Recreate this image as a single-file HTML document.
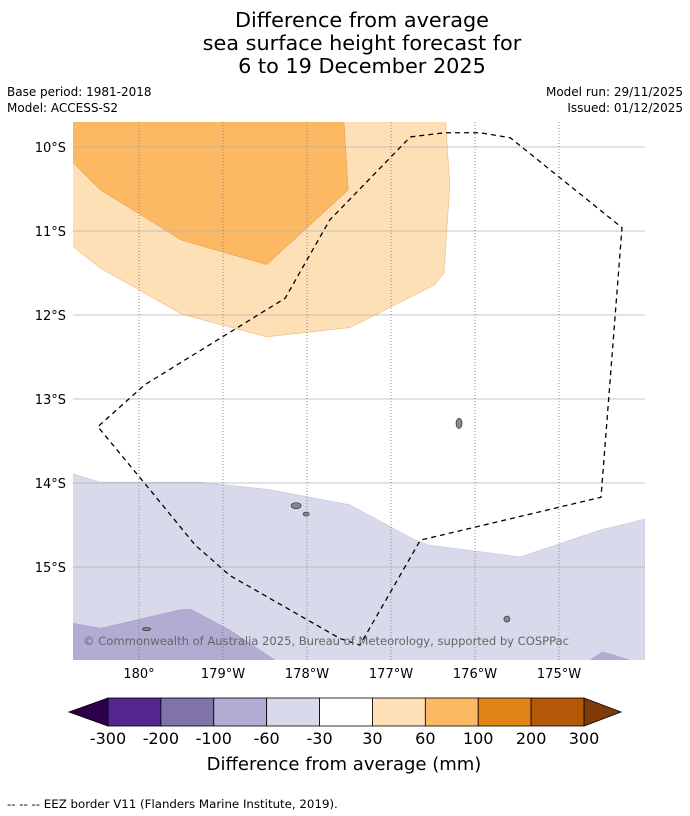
<!DOCTYPE html>
<html><head><meta charset="utf-8">
<style>
body{margin:0;background:#fff;font-family:"Liberation Sans","DejaVu Sans",sans-serif;}
#wrap{position:relative;width:690px;height:816px;overflow:hidden;}
svg text{font-family:"DejaVu Sans","Liberation Sans",sans-serif;}
</style></head>
<body>
<div id="wrap">
<svg id="chart" width="690" height="816" viewBox="0 0 690 816">
<text x="362" y="27" font-size="20.8" text-anchor="middle">Difference from average</text>
<text x="362" y="50" font-size="20.8" text-anchor="middle">sea surface height forecast for</text>
<text x="362" y="73" font-size="20.8" text-anchor="middle">6 to 19 December 2025</text>
<text x="7" y="96" font-size="12">Base period: 1981-2018</text>
<text x="7" y="112" font-size="12">Model: ACCESS-S2</text>
<text x="683" y="96" font-size="12" text-anchor="end">Model run: 29/11/2025</text>
<text x="683" y="112" font-size="12" text-anchor="end">Issued: 01/12/2025</text>
<defs><clipPath id="mapclip"><rect x="73" y="122" width="572" height="538"/></clipPath></defs>
<g id="map" clip-path="url(#mapclip)"></g>
<g id="axes"></g>
<g id="cbar"></g>
<text x="344" y="770" font-size="18" text-anchor="middle">Difference from average (mm)</text>
<text x="7" y="808" font-size="11.8">--  --  -- EEZ border V11 (Flanders Marine Institute, 2019).</text>
</svg>
</div>
<script>
const latTicks=[-10,-11,-12,-13,-14,-15];
const latLabels=["10°S","11°S","12°S","13°S","14°S","15°S"];
const lonTicks=[180,181,182,183,184,185];
const lonLabels=["180°","179°W","178°W","177°W","176°W","175°W"];
const cbarLevels=["-300","-200","-100","-60","-30","30","60","100","200","300"];
const cbarColors=["#54278f","#8073ac","#b2abd2","#d8daeb","#ffffff","#fee0b6","#fdb863","#e08214","#b35806"];
const cbarLow="#2d004b", cbarHigh="#7f3b08";
const band30to60=[[179.21,-9.70],[183.65,-9.70],[183.70,-10.45],[183.63,-11.50],[183.52,-11.64],[182.51,-12.15],[181.52,-12.26],[180.51,-11.99],[179.54,-11.44],[179.21,-11.18]];
const band60to100=[[179.21,-9.70],[182.44,-9.70],[182.49,-10.51],[181.52,-11.40],[180.51,-11.11],[179.54,-10.51],[179.21,-10.18]];
const bandM60toM30=[[179.21,-13.89],[179.54,-13.99],[180.73,-13.99],[181.56,-14.08],[182.51,-14.26],[183.29,-14.68],[183.46,-14.74],[184.54,-14.88],[185.49,-14.56],[186.02,-14.43],[186.02,-16.2],[179.21,-16.2]];
const bandM100toM60a=[[179.21,-15.67],[179.54,-15.73],[180.49,-15.51],[180.61,-15.50],[181.08,-15.75],[181.62,-16.11],[181.7,-16.2],[179.21,-16.2]];
const bandM100toM60b=[[185.37,-16.11],[185.52,-16.01],[185.85,-16.11],[185.9,-16.2],[185.3,-16.2]];
const eezLon=[183.23,183.64,184.06,184.42,185.75,185.50,183.35,182.63,182.39,181.08,180.67,180.13,179.51,180.07,181.74,182.27,183.23];
const eezLat=[-9.88,-9.83,-9.83,-9.89,-10.96,-14.17,-14.68,-15.93,-15.85,-15.10,-14.74,-14.08,-13.33,-12.83,-11.80,-10.87,-9.88];
const islands=[[181.87,-14.27,5,3],[181.99,-14.37,3,2],[183.81,-13.29,3,5],[184.38,-15.62,3,3],[180.09,-15.74,4,1.5]];

const X=lon=>139+(lon-180)*84;
const Y=lat=>147+(-10-lat)*84;
const NS="http://www.w3.org/2000/svg";
function mk(tag,attrs,parent){const e=document.createElementNS(NS,tag);for(const k in attrs)e.setAttribute(k,attrs[k]);parent.appendChild(e);return e;}
const map=document.getElementById('map'),axes=document.getElementById('axes'),cb=document.getElementById('cbar');
function poly(pts,fill,stroke,name){const p=mk('polygon',{points:pts.map(q=>X(q[0])+','+Y(q[1])).join(' '),fill:fill,stroke:stroke,'stroke-width':0.6},map);

}
poly(band30to60,"#fee0b6","#f0b878","contour-30-to-60");
poly(band60to100,"#fdb863","#e8a050","contour-60-to-100");
poly(bandM60toM30,"#d8daeb","#c8c8e0","contour-minus60-to-minus30");
poly(bandM100toM60a,"#b2abd2","#a8a0cc","contour-minus100-to-minus60");
poly(bandM100toM60b,"#b2abd2","#a8a0cc","contour-minus100-to-minus60-east");
latTicks.forEach((t,i)=>{const l=mk('line',{x1:73,x2:645,y1:Y(t),y2:Y(t),stroke:'#b0b0b0','stroke-width':0.7},map);


const tx=mk('text',{x:66,y:Y(t)+5,'font-size':13,'text-anchor':'end'},axes);tx.textContent=latLabels[i];

});
lonTicks.forEach((t,i)=>{const l=mk('line',{x1:X(t),x2:X(t),y1:122,y2:660,stroke:'#667','stroke-width':0.7,'stroke-dasharray':'1,2'},map);


const tx=mk('text',{x:X(t),y:678,'font-size':13,'text-anchor':'middle'},axes);tx.textContent=lonLabels[i];

});
islands.forEach(s=>{const e=mk('ellipse',{cx:X(s[0]),cy:Y(s[1]),rx:s[2],ry:s[3],fill:'#888',stroke:'#333','stroke-width':0.7},map);

});
const eez=mk('polyline',{points:eezLon.map((v,i)=>X(v)+','+Y(eezLat[i])).join(' '),fill:'none',stroke:'#000','stroke-width':1.3,'stroke-dasharray':'5,4'},map);


const cr=mk('text',{x:83,y:645,'font-size':11.6,fill:'#666',textLength:486},map);cr.textContent="© Commonwealth of Australia 2025, Bureau of Meteorology, supported by COSPPac";


const cx0=108,cx1=584,cy0=698,cy1=726,n=cbarColors.length,w=(cx1-cx0)/n;
const lt=mk('polygon',{points:`${cx0},${cy0} ${69},${(cy0+cy1)/2} ${cx0},${cy1}`,fill:cbarLow,stroke:'#000','stroke-width':0.8},cb);


const rt=mk('polygon',{points:`${cx1},${cy0} ${621},${(cy0+cy1)/2} ${cx1},${cy1}`,fill:cbarHigh,stroke:'#000','stroke-width':0.8},cb);


cbarColors.forEach((c,i)=>{const r=mk('rect',{x:cx0+i*w,y:cy0,width:w,height:cy1-cy0,fill:c,stroke:'#000','stroke-width':0.8},cb);

});
cbarLevels.forEach((t,i)=>{const tx=mk('text',{x:cx0+i*w,y:744,'font-size':16,'text-anchor':'middle'},cb);tx.textContent=t;

});
</script>
</body></html>
